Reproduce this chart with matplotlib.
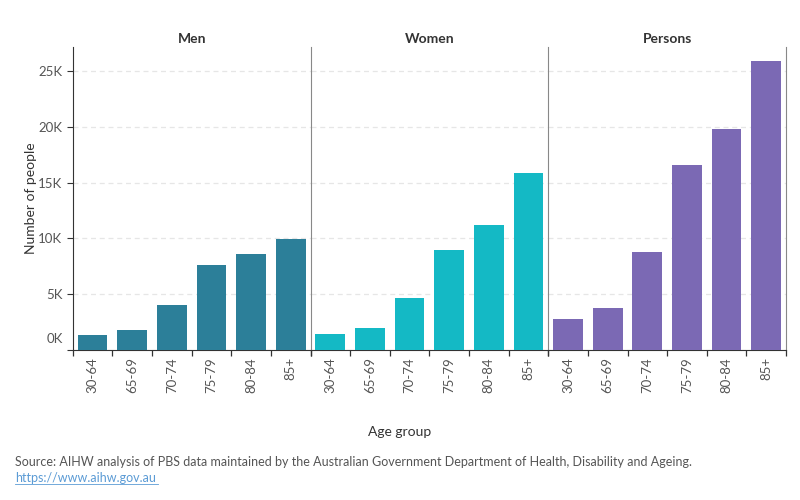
import matplotlib.pyplot as plt
from matplotlib.ticker import FuncFormatter, MultipleLocator, FixedLocator

plt.rcParams['font.family'] = ['Lato', 'DejaVu Sans']

# Données (nombre de personnes par groupe d'âge)
age_groups = ["30-64", "65-69", "70-74", "75-79", "80-84", "85+"]
men = [1340, 1790, 4030, 7600, 8600, 9950]
women = [1430, 1970, 4660, 8960, 11200, 15860]
persons = [2780, 3760, 8780, 16580, 19820, 25900]

panels = ["Men", "Women", "Persons"]
values = [men, women, persons]
colors = ["#2c7f99", "#14b9c5", "#7b69b4"]

fig, axes = plt.subplots(1, 3, figsize=(8, 5), dpi=100, sharey=True)
fig.subplots_adjust(left=0.091, right=0.9825, top=0.906, bottom=0.30, wspace=0)

x = list(range(len(age_groups)))
for i, ax in enumerate(axes):
    ax.bar(x, values[i], width=0.75, color=colors[i], zorder=3)
    ax.set_xlim(-0.5, len(age_groups) - 0.5)
    ax.set_ylim(0, 27150)
    ax.set_title(panels[i], fontsize=10, fontweight='bold', color='#333333', pad=3)
    ax.yaxis.set_major_locator(MultipleLocator(5000))
    ax.yaxis.grid(True, color='#e6e6e6', linestyle=(0, (4, 3)), linewidth=0.9, zorder=0)
    ax.set_xticks(x)
    ax.set_xticklabels(age_groups, rotation=90, fontsize=9.5, color='#555555')
    ax.tick_params(axis='x', which='major', length=0, pad=5)
    ax.xaxis.set_minor_locator(FixedLocator([b - 0.5 for b in range(len(age_groups) + 1)]))
    ax.tick_params(axis='x', which='minor', length=4, color='#333333', width=0.9)
    ax.spines['top'].set_visible(False)
    ax.spines['bottom'].set_color('#333333')
    ax.spines['left'].set_color('#333333' if i == 0 else '#888888')
    ax.spines['right'].set_visible(i == 2)
    ax.spines['right'].set_color('#888888')
    if i > 0:
        ax.tick_params(axis='y', length=0)

# "0K" est un peu remonté dans l'original : on le dessine à part
axes[0].yaxis.set_major_formatter(FuncFormatter(lambda v, p: "" if v == 0 else f"{int(v / 1000)}K"))
axes[0].tick_params(axis='y', labelsize=9.5, labelcolor='#555555', length=4, color='#333333')
axes[0].annotate("0K", xy=(0, 0), xycoords=('axes fraction', 'data'), xytext=(-7, 8),
                 textcoords='offset points', ha='right', va='center', fontsize=9.5, color='#555555')
axes[0].set_ylabel("Number of people", fontsize=10, color='#333333', labelpad=1)

fig.text(0.5, 1 - 432 / 500, "Age group", ha='center', va='center', fontsize=10, color='#333333')
fig.text(0.019, 1 - 462 / 500,
         "Source: AIHW analysis of PBS data maintained by the Australian Government Department of Health, Disability and Ageing.",
         ha='left', va='center', fontsize=9, color='#555555')
fig.text(0.019, 1 - 478 / 500, "https://www.aihw.gov.au", ha='left', va='center',
         fontsize=9, color='#5b9bd5', url="https://www.aihw.gov.au")
fig.add_artist(plt.Line2D([0.019, 0.198], [1 - 484 / 500, 1 - 484 / 500], color='#5b9bd5', linewidth=0.6))

plt.savefig("out.png", dpi=100)
